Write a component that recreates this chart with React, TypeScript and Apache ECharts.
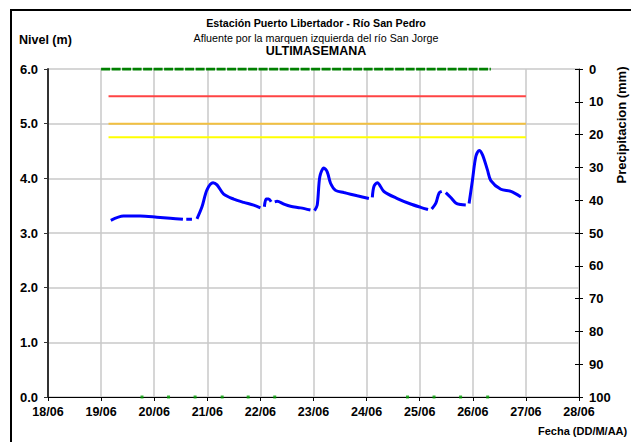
import React, { useEffect, useRef } from "react";
import * as echarts from "echarts";

// x values are days of June (fractional)
const xTicks = [18, 19, 20, 21, 22, 23, 24, 25, 26, 27, 28];
const levelTicks = [0, 1, 2, 3, 4, 5, 6];
const precipTicks = [0, 10, 20, 30, 40, 50, 60, 70, 80, 90, 100];

const nivelDays = [
  19.183, 19.421, 19.736, 20.051, 20.302, 20.541, null,
  20.604, 20.711, null,
  20.806, 20.9, 20.994, 21.108, 21.183, 21.308, 21.496, 21.685, 21.874, 22.0, null,
  22.075, 22.108, 22.157, 22.202, null,
  22.27, 22.315, 22.44, 22.566, 22.755, 22.943, null,
  23.019, 23.07, 23.119, 23.194, 23.258, 23.321, 23.415, 23.572, 23.698, 23.825, 24.043, null,
  24.108, 24.138, 24.202, 24.326, 24.579, 24.83, 25.019, 25.157, null,
  25.226, 25.302, 25.364, 25.415, null,
  25.491, 25.585, 25.679, 25.774, 25.868, null,
  25.93, 25.994, 26.057, 26.119, 26.183, 26.277, 26.34, 26.528, 26.717, 26.906,
];
const nivelValues = [
  3.23, 3.31, 3.31, 3.29, 3.27, 3.25, null,
  3.25, 3.25, null,
  3.26, 3.48, 3.79, 3.92, 3.88, 3.71, 3.62, 3.56, 3.51, 3.46, null,
  3.48, 3.62, 3.62, 3.57, null,
  3.57, 3.58, 3.53, 3.49, 3.46, 3.42, null,
  3.41, 3.51, 4.03, 4.19, 4.12, 3.91, 3.78, 3.74, 3.71, 3.68, 3.63, null,
  3.65, 3.85, 3.92, 3.76, 3.63, 3.53, 3.47, 3.43, null,
  3.44, 3.54, 3.73, 3.76, null,
  3.74, 3.65, 3.55, 3.52, 3.51, null,
  3.54, 3.97, 4.4, 4.51, 4.43, 4.15, 3.96, 3.8, 3.76, 3.66,
];

const umbralStart = 19.14;
const umbralEnd = 27.0;
const umbralRojo = 5.5;
const umbralNaranja = 5.0;
const umbralAmarillo = 4.75;

const precipDays = [19.0, 26.34];
const precipValues = [0, 0];

const marcasDays = [19.77, 20.27, 20.77, 21.28, 21.77, 22.27, 24.77, 25.27, 25.77, 26.28];
const marcasValues = [0, 0, 0, 0, 0, 0, 0, 0, 0, 0];

const FONT = "'Liberation Sans', Arial, sans-serif";

export default function App() {
  const ref = useRef<HTMLDivElement>(null);
  useEffect(() => {
    document.body.style.margin = "0";
    const chart = echarts.init(ref.current!, null, { renderer: "svg" });
    const nivelData = nivelDays.map((d, i) => (d === null ? [null, null] : [d, nivelValues[i]]));
    const labelStyle = { fontFamily: FONT, fontWeight: "bold" as const, fontSize: 13, color: "#000" };
    chart.setOption({
      animation: false,
      backgroundColor: "#fff",
      grid: { left: 48, right: 52, top: 69, bottom: 45, containLabel: false },
      xAxis: {
        type: "value",
        min: xTicks[0],
        max: xTicks[xTicks.length - 1],
        interval: 1,
        axisLine: { show: true, lineStyle: { color: "#000", width: 1 } },
        axisTick: { show: true, length: 4, lineStyle: { color: "#000" } },
        axisLabel: { ...labelStyle, fontSize: 12.5, margin: 8, formatter: (v: number) => `${v}/06` },
        splitLine: { show: true, lineStyle: { color: "#c8c8c8", width: 1.5 } },
      },
      yAxis: [
        {
          type: "value",
          min: levelTicks[0],
          max: levelTicks[levelTicks.length - 1],
          interval: 1,
          position: "left",
          axisLine: { show: true, lineStyle: { color: "#333", width: 2 } },
          axisTick: { show: true, length: 4, lineStyle: { color: "#333" } },
          axisLabel: { ...labelStyle, margin: 10, formatter: (v: number) => v.toFixed(1) },
          splitLine: { show: true, lineStyle: { color: "#c8c8c8", width: 1.5 } },
        },
        {
          type: "value",
          min: precipTicks[0],
          max: precipTicks[precipTicks.length - 1],
          interval: 10,
          inverse: true,
          position: "right",
          axisLine: { show: true, lineStyle: { color: "#000", width: 1 } },
          axisTick: { show: true, length: 4, lineStyle: { color: "#000" } },
          axisLabel: { ...labelStyle, margin: 10 },
          splitLine: { show: false },
        },
        {
          type: "value",
          min: precipTicks[0],
          max: precipTicks[precipTicks.length - 1],
          interval: 10,
          inverse: true,
          position: "right",
          axisLine: { show: false },
          axisTick: { show: true, inside: true, length: 4, lineStyle: { color: "#000" } },
          axisLabel: { show: false },
          splitLine: { show: false },
        },
      ],
      graphic: [
        {
          type: "rect",
          shape: { x: 11, y: 10, width: 700, height: 500 },
          style: { fill: "none", stroke: "#000", lineWidth: 2 },
          silent: true,
        },
        {
          type: "text",
          x: 316, y: 23,
          style: { text: "Estación Puerto Libertador - Río San Pedro", font: `bold 10.7px ${FONT}`, fill: "#000", align: "center", verticalAlign: "middle" },
        },
        {
          type: "text",
          x: 316, y: 38,
          style: { text: "Afluente por la marquen izquierda del río San Jorge", font: `10.7px ${FONT}`, fill: "#000", align: "center", verticalAlign: "middle" },
        },
        {
          type: "text",
          x: 316, y: 51,
          style: { text: "ULTIMASEMANA", font: `bold 12.5px ${FONT}`, fill: "#000", align: "center", verticalAlign: "middle" },
        },
        {
          type: "text",
          x: 19, y: 40,
          style: { text: "Nivel (m)", font: `bold 12.5px ${FONT}`, fill: "#000", align: "left", verticalAlign: "middle" },
        },
        {
          type: "text",
          x: 538, y: 431,
          style: { text: "Fecha (DD/M/AA)", font: `bold 11px ${FONT}`, fill: "#000", align: "left", verticalAlign: "middle" },
        },
        {
          type: "text",
          x: 621, y: 125,
          rotation: Math.PI / 2,
          style: { text: "Precipitacion (mm)", font: `bold 13px ${FONT}`, fill: "#000", align: "center", verticalAlign: "middle" },
        },
      ],
      series: [
        {
          name: "Rojo",
          type: "line",
          yAxisIndex: 0,
          data: [[umbralStart, umbralRojo], [umbralEnd, umbralRojo]],
          showSymbol: false,
          lineStyle: { color: "#ff4444", width: 2 },
          z: 2,
        },
        {
          name: "Naranja",
          type: "line",
          yAxisIndex: 0,
          data: [[umbralStart, umbralNaranja], [umbralEnd, umbralNaranja]],
          showSymbol: false,
          lineStyle: { color: "#f2c040", width: 2 },
          z: 2,
        },
        {
          name: "Amarillo",
          type: "line",
          yAxisIndex: 0,
          data: [[umbralStart, umbralAmarillo], [umbralEnd, umbralAmarillo]],
          showSymbol: false,
          lineStyle: { color: "#ffff00", width: 2 },
          z: 2,
        },
        {
          name: "Precipitacion",
          type: "line",
          yAxisIndex: 1,
          data: precipDays.map((d, i) => [d, precipValues[i]]),
          showSymbol: false,
          lineStyle: { color: "#008000", width: 3, type: [9, 1.5] },
          z: 3,
        },
        {
          name: "Marcas",
          type: "scatter",
          yAxisIndex: 0,
          data: marcasDays.map((d, i) => [d, marcasValues[i]]),
          symbol: "rect",
          symbolSize: 3,
          itemStyle: { color: "#00a000" },
          z: 4,
        },
        {
          name: "Nivel",
          type: "line",
          yAxisIndex: 0,
          data: nivelData,
          connectNulls: false,
          showSymbol: false,
          smooth: 0.3,
          lineStyle: { color: "#0000ff", width: 3 },
          z: 5,
        },
      ],
    });
    return () => chart.dispose();
  }, []);
  return <div ref={ref} style={{ width: 631, height: 442 }} />;
}
